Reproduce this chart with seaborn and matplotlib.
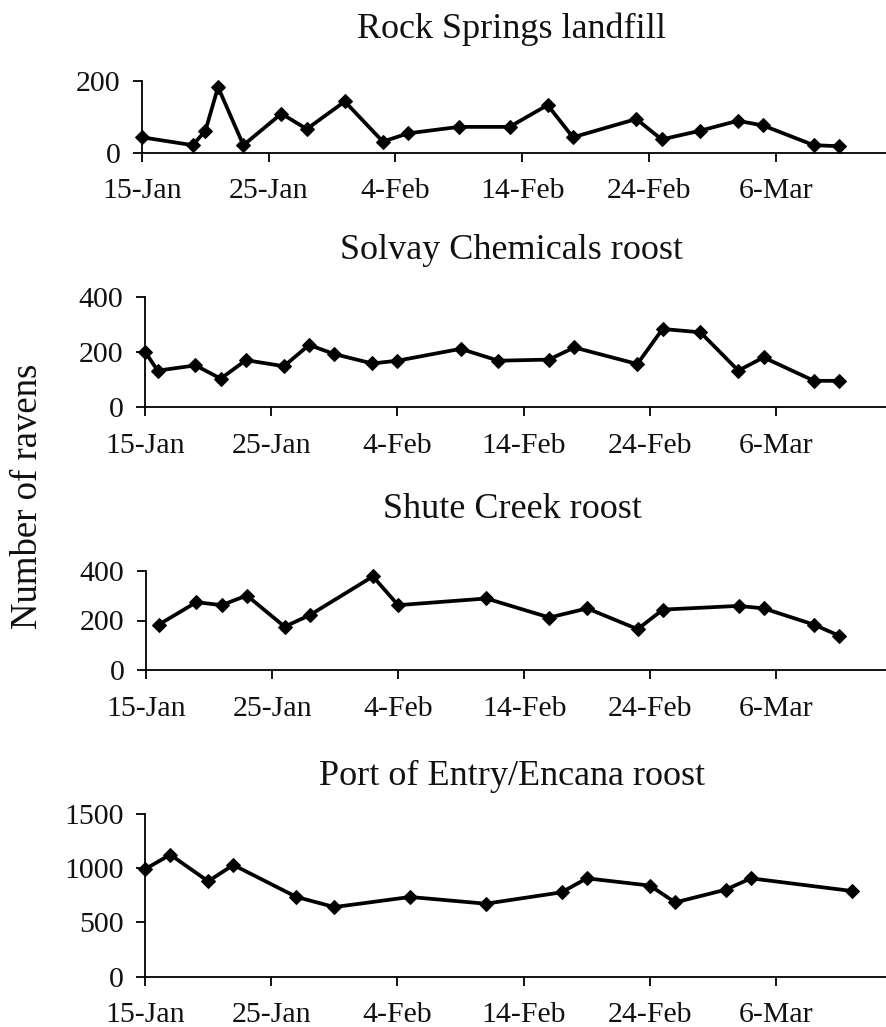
import pandas as pd
import matplotlib.pyplot as plt
import matplotlib.dates as mdates
import seaborn as sns

year = 2007

rock_dates = ['15-Jan', '19-Jan', '20-Jan', '21-Jan', '23-Jan', '26-Jan', '28-Jan', '31-Jan',
              '3-Feb', '5-Feb', '9-Feb', '13-Feb', '16-Feb', '18-Feb', '23-Feb', '25-Feb',
              '28-Feb', '3-Mar', '5-Mar', '9-Mar', '11-Mar']
rock_counts = [43, 21, 61, 183, 21, 109, 66, 143, 31, 54, 72, 72, 133, 43, 94, 37, 61, 89, 76, 21, 18]

solvay_dates = ['15-Jan', '16-Jan', '19-Jan', '21-Jan', '23-Jan', '26-Jan', '28-Jan', '30-Jan',
                '2-Feb', '4-Feb', '9-Feb', '12-Feb', '16-Feb', '18-Feb', '23-Feb', '25-Feb',
                '28-Feb', '3-Mar', '5-Mar', '9-Mar', '11-Mar']
solvay_counts = [202, 133, 152, 104, 171, 149, 226, 193, 159, 169, 212, 169, 173, 217, 157, 284,
                 272, 133, 181, 96, 96]

shute_dates = ['16-Jan', '19-Jan', '21-Jan', '23-Jan', '26-Jan', '28-Jan', '2-Feb', '4-Feb',
               '11-Feb', '16-Feb', '19-Feb', '23-Feb', '25-Feb', '3-Mar', '5-Mar', '9-Mar', '11-Mar']
shute_counts = [183, 274, 262, 301, 175, 222, 378, 262, 289, 212, 249, 165, 244, 259, 249, 183, 138]

port_dates = ['15-Jan', '17-Jan', '20-Jan', '22-Jan', '27-Jan', '30-Jan', '5-Feb', '11-Feb',
              '17-Feb', '19-Feb', '24-Feb', '26-Feb', '2-Mar', '4-Mar', '12-Mar']
port_counts = [991, 1125, 880, 1030, 735, 642, 735, 673, 778, 907, 840, 685, 802, 907, 790]

titles = ['Rock Springs landfill', 'Solvay Chemicals roost', 'Shute Creek roost',
          'Port of Entry/Encana roost']
y_ticks = [[0, 200], [0, 200, 400], [0, 200, 400], [0, 500, 1000, 1500]]


def to_df(dates, counts):
    d = pd.to_datetime([f'{s}-{year}' for s in dates], format='%d-%b-%Y')
    return pd.DataFrame({'date': d, 'count': counts})


panels = [to_df(rock_dates, rock_counts), to_df(solvay_dates, solvay_counts),
          to_df(shute_dates, shute_counts), to_df(port_dates, port_counts)]

sns.set_style('ticks')
plt.rcParams['font.family'] = ['Liberation Serif', 'DejaVu Serif']

W, H = 886, 1027
fig = plt.figure(figsize=(W / 100, H / 100), dpi=100)

# axes boxes in pixels: left, top, bottom
boxes = [(142, 81, 152.7), (145, 297, 407.3), (146, 571, 670), (145, 814, 976.7)]
title_base = [38, 259, 518, 785]

start = pd.Timestamp(f'{year}-01-15')
end = start + pd.Timedelta(days=58.7)
xticks = pd.date_range(start, periods=6, freq='10D')

for df, (l, t, b), title, yt, tb in zip(panels, boxes, titles, y_ticks, title_base):
    ax = fig.add_axes([l / W, 1 - b / H, (W - l) / W, (b - t) / H])
    sns.lineplot(data=df, x='date', y='count', ax=ax, color='k', linewidth=2.7,
                 marker='D', markersize=7.5, markeredgecolor='k', clip_on=False)
    ax.set_xlim(start, end)
    ax.set_ylim(yt[0], yt[-1])
    ax.set_yticks(yt)
    ax.set_xticks(xticks)
    ax.xaxis.set_major_formatter(mdates.DateFormatter('%-d-%b'))
    ax.set_xlabel('')
    ax.set_ylabel('')
    sns.despine(ax=ax)
    for s in ['left', 'bottom']:
        ax.spines[s].set_linewidth(1.3)
        ax.spines[s].set_color('k')
    ax.tick_params(axis='both', length=6.5, width=1.3, color='k', labelsize=21.5,
                   labelcolor='#111111')
    ax.tick_params(axis='x', pad=12)
    ax.tick_params(axis='y', pad=9)
    fig.text(512 / W, 1 - tb / H, title, ha='center', va='baseline', fontsize=26, color='#111111')

fig.text(28 / W, 1 - 496 / H, 'Number of ravens', rotation=90, ha='center', va='center',
         fontsize=26.5, color='#111111')

fig.savefig('out.png', dpi=100)
